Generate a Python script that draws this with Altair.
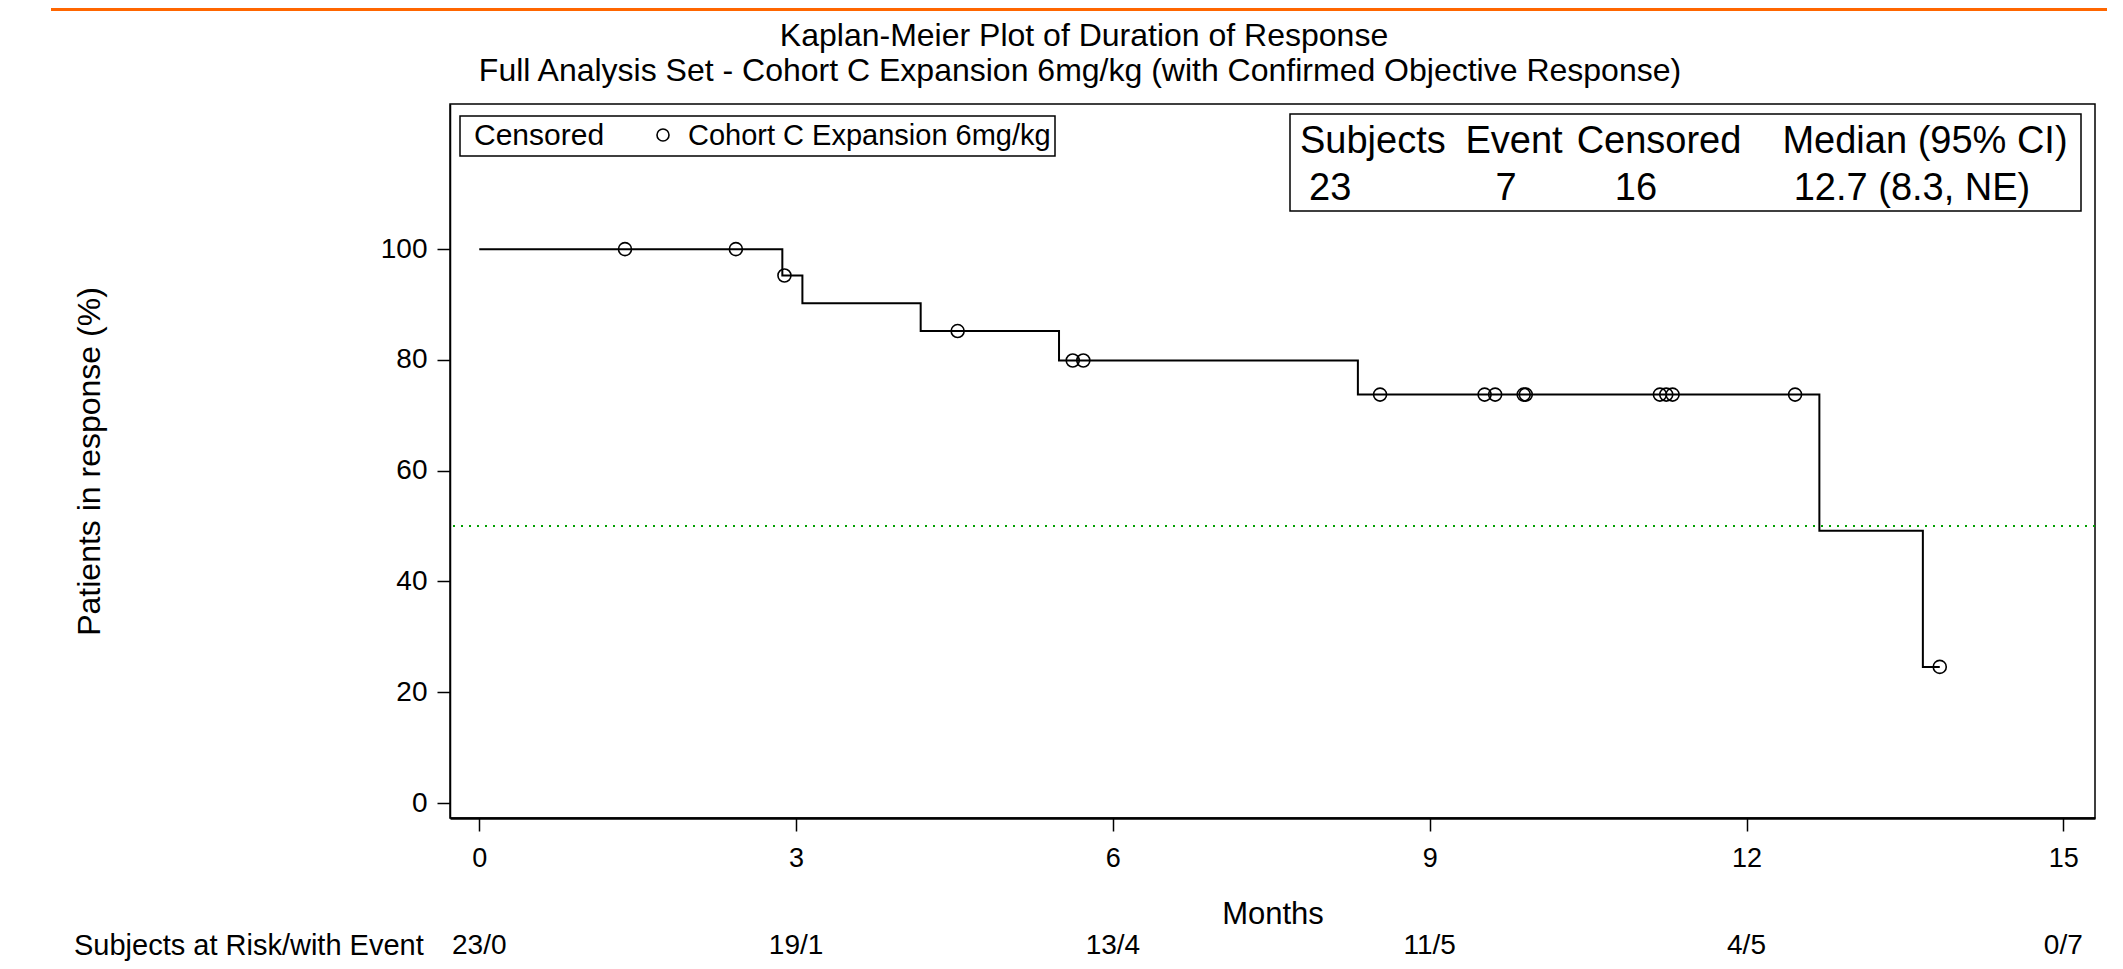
import altair as alt
import pandas as pd

FONT = "Liberation Sans"

# ---- data ----
event_months = [0, 2.87, 3.06, 4.18, 5.49, 8.32, 12.69, 13.67, 13.83]
km_pct = [100, 95.24, 90.23, 85.21, 79.89, 73.74, 49.16, 24.58, 24.58]

censor_months = [1.38, 2.43, 2.89, 4.53, 5.62, 5.72, 8.53, 9.52, 9.62, 9.89,
                 9.91, 11.18, 11.24, 11.30, 12.46, 13.83]
censor_pct = [100, 100, 95.24, 85.21, 79.89, 79.89, 73.74, 73.74, 73.74, 73.74,
              73.74, 73.74, 73.74, 73.74, 73.74, 24.58]

risk_months = [0, 3, 6, 9, 12, 15]
risk_labels = ["23/0", "19/1", "13/4", "11/5", "4/5", "0/7"]

x_ticks = [0, 3, 6, 9, 12, 15]
y_ticks = [0, 20, 40, 60, 80, 100]
median_ref = [50]

title_lines = ["Kaplan-Meier Plot of Duration of Response",
               "Full Analysis Set - Cohort C Expansion 6mg/kg (with Confirmed Objective Response)"]
legend_texts = ["Censored", "Cohort C Expansion 6mg/kg"]
stats_header = ["Subjects", "Event", "Censored", "Median (95% CI)"]
stats_values = ["23", "7", "16", "12.7 (8.3, NE)"]
risk_title = "Subjects at Risk/with Event"

# ---- tables ----
km = pd.DataFrame({"month": event_months, "pct": km_pct})
cens = pd.DataFrame({"month": censor_months, "pct": censor_pct})
risk = pd.DataFrame({"month": risk_months, "label": risk_labels})
med = pd.DataFrame({"pct": median_ref})

xscale = alt.Scale(domain=[-0.277, 15.30], nice=False, zero=False)
yscale = alt.Scale(domain=[-2.7, 126.2], nice=False, zero=False)

x_enc = alt.X("month:Q", scale=xscale,
              axis=alt.Axis(values=x_ticks, title="Months", grid=False, tickSize=13,
                            labelPadding=14, labelFontSize=27, titleFontSize=31,
                            titleY=96, titleBaseline="middle", domainWidth=2.5,
                            domainColor="black", labelFlush=False, labelOverlap=False,
                            format="d"))
y_enc = alt.Y("pct:Q", scale=yscale,
              axis=alt.Axis(values=y_ticks, title="Patients in response (%)", grid=False,
                            tickSize=13, labelPadding=10, labelFontSize=28,
                            titleFontSize=32, titleX=-361, titleY=357,
                            titleBaseline="middle", titleAlign="center", titleAngle=270,
                            domainColor="black", domainWidth=1.5, format="d"))


def label(text, x, y, size, align="left", baseline="middle"):
    return alt.Chart(pd.DataFrame({"t": [text]})).mark_text(
        align=align, baseline=baseline, fontSize=size, font=FONT, color="black"
    ).encode(x=alt.value(x), y=alt.value(y), text="t:N")


def box(x, x2, y, y2, fill="white", stroke="black", sw=1.5):
    return alt.Chart(pd.DataFrame({"a": [0]})).mark_rect(
        fill=fill, stroke=stroke, strokeWidth=sw
    ).encode(x=alt.value(x), x2=alt.value(x2), y=alt.value(y), y2=alt.value(y2))


median = alt.Chart(med).mark_rule(color="#00a000", strokeDash=[2, 6], strokeWidth=2).encode(y=y_enc)
line = alt.Chart(km).mark_line(interpolate="step-after", color="black", strokeWidth=2).encode(x=x_enc, y=y_enc)
points = alt.Chart(cens).mark_point(shape="circle", size=169, filled=False, color="black",
                                    strokeWidth=1.6, opacity=1).encode(x=x_enc, y=y_enc)
risk_text = alt.Chart(risk).mark_text(fontSize=28, font=FONT, color="black", align="center",
                                      baseline="middle").encode(
    x=x_enc, y=alt.value(842), text="label:N")

legend_symbol = alt.Chart(pd.DataFrame({"a": [0]})).mark_point(
    shape="circle", size=144, filled=False, color="black", strokeWidth=1.6, opacity=1
).encode(x=alt.value(213), y=alt.value(31))

layers = [
    box(-399, 1657, -96, -93, fill="#ff6600", stroke="#ff6600", sw=0),
    median, line, points, risk_text,
    box(10, 605, 12, 52),
    legend_symbol,
    label(legend_texts[0], 24, 32, 30),
    label(legend_texts[1], 238, 32, 29),
    box(840, 1631, 10, 107),
    label(stats_header[0], 850, 38, 38),
    label(stats_header[1], 1064, 38, 38, align="center"),
    label(stats_header[2], 1209, 38, 38, align="center"),
    label(stats_header[3], 1475, 38, 38, align="center"),
    label(stats_values[0], 859, 85, 38),
    label(stats_values[1], 1056, 85, 38, align="center"),
    label(stats_values[2], 1186, 85, 38, align="center"),
    label(stats_values[3], 1462, 85, 38, align="center"),
    label(title_lines[0], 634, -58, 32, align="center", baseline="alphabetic"),
    label(title_lines[1], 630, -23, 32, align="center", baseline="alphabetic"),
    label(risk_title, -376, 842, 29),
]

chart = alt.layer(*layers).properties(
    width=1645, height=714,
    autosize=alt.AutoSizeParams(type="none"),
    padding={"left": 442, "top": 96, "right": 12, "bottom": 143},
).configure_view(stroke="black", strokeWidth=1.5).configure_axis(
    labelFont=FONT, titleFont=FONT, labelColor="black", titleColor="black",
    tickColor="black", tickWidth=1.5, titleFontWeight="normal"
)

chart.save("out.html", embed_options={"renderer": "svg", "actions": False})
